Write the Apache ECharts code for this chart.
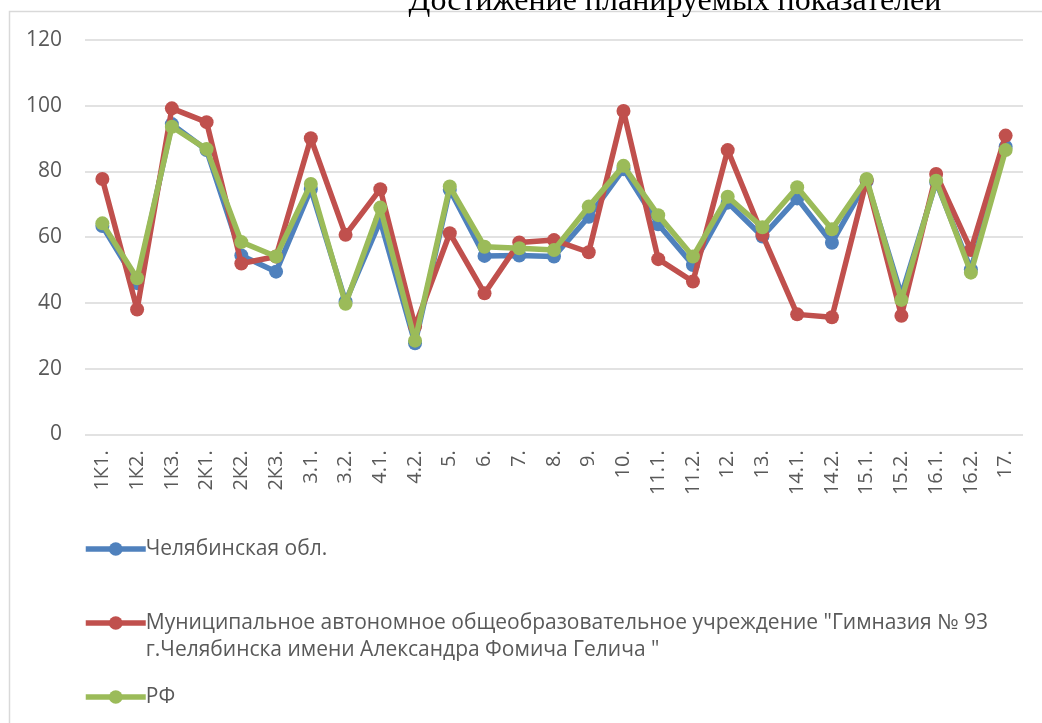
<!DOCTYPE html>
<html>
<head>
<meta charset="utf-8">
<script src="https://cdn.jsdelivr.net/npm/echarts@6/dist/echarts.min.js"></script>
<style>
html,body{margin:0;padding:0;background:#fff;}
#chart{width:1042px;height:723px;}
</style>
</head>
<body>
<div id="chart"></div>
<script>
const titleText = 'Достижение планируемых показателей';
const categories = ['1К1.','1К2.','1К3.','2К1.','2К2.','2К3.','3.1.','3.2.','4.1.','4.2.','5.','6.','7.','8.','9.','10.','11.1.','11.2.','12.','13.','14.1.','14.2.','15.1.','15.2.','16.1.','16.2.','17.'];
const seriesNames = ['Челябинская обл.', 'Муниципальное автономное общеобразовательное учреждение "Гимназия № 93 г.Челябинска имени Александра Фомича Гелича "', 'РФ'];
const chelyabinsk = [63.4,46,94.4,86.5,54.4,49.5,74.6,40.4,65,27.7,74.4,54.3,54.4,54.1,66.2,80.7,63.9,51.5,70.5,60.2,71.8,58.3,77,42.4,76.8,50.2,87.5];
const gymnasium = [77.7,38,99.2,95,52,54.1,90.1,60.7,74.6,32.8,61.2,42.9,58.4,59.1,55.4,98.4,53.3,46.5,86.5,60.7,36.5,35.6,77.4,36.1,79.2,56.1,90.9];
const russia = [64.2,47.5,93.6,86.8,58.5,54.1,76.2,39.7,69,28.5,75.4,57.1,56.6,56.1,69.3,81.7,66.7,54.1,72.3,63,75.2,62.4,77.7,40.9,77.2,49.2,86.5];
const yTicks = {min: 0, max: 120, interval: 20};
const colors = ['#4F81BD', '#C0504D', '#9BBB59'];

const FONT = 'Open Sans';
const chart = echarts.init(document.getElementById('chart'), null, {renderer: 'canvas'});

function mkSeries(name, data, color, z) {
  return {
    name: name, type: 'line', data: data, z: z,
    symbol: 'circle', symbolSize: 14,
    lineStyle: {color: color, width: 5.5},
    itemStyle: {color: color},
    emphasis: {disabled: true},
    animation: false
  };
}
function mkLegend(name, top, formatter) {
  return {
    data: [name], left: 83, top: top, orient: 'vertical', padding: 0,
    itemWidth: 60, itemHeight: 17, itemGap: 0,
    selectedMode: false,
    formatter: formatter,
    lineStyle: {width: 5.5},
    textStyle: {color: '#595959', fontFamily: FONT, fontSize: 21, lineHeight: 27, padding: [0,0,0,-5]}
  };
}

chart.setOption({
  animation: false,
  color: colors,
  title: {
    text: titleText, left: 670, top: -19, textAlign: 'center',
    textStyle: {fontFamily: 'Liberation Serif', fontWeight: 'normal', fontSize: 32, color: '#000'}
  },
  graphic: [{
    type: 'rect', z: -10, silent: true,
    shape: {x: 9.5, y: 11.5, width: 1200, height: 900},
    style: {fill: 'none', stroke: '#D9D9D9', lineWidth: 1.5}
  }],
  legend: [
    mkLegend(seriesNames[0], 535.5),
    mkLegend(seriesNames[1], 582.5, function () {
      return '\nМуниципальное автономное общеобразовательное учреждение "Гимназия № 93\nг.Челябинска имени Александра Фомича Гелича "';
    }),
    mkLegend(seriesNames[2], 683.5)
  ],
  grid: {left: 85, right: 19, top: 40, bottom: 723 - 434.3, containLabel: false},
  xAxis: {
    type: 'category', data: categories, boundaryGap: true,
    axisLine: {show: false}, axisTick: {show: false},
    axisLabel: {rotate: 90, margin: 16, color: '#595959', fontFamily: FONT, fontSize: 20, interval: 0}
  },
  yAxis: {
    type: 'value', min: yTicks.min, max: yTicks.max, interval: yTicks.interval,
    axisLine: {show: false}, axisTick: {show: false},
    axisLabel: {margin: 23, color: '#595959', fontFamily: FONT, fontSize: 21},
    splitLine: {lineStyle: {color: '#D9D9D9', width: 1.5}}
  },
  series: [
    mkSeries(seriesNames[0], chelyabinsk, colors[0], 2),
    mkSeries(seriesNames[1], gymnasium, colors[1], 3),
    mkSeries(seriesNames[2], russia, colors[2], 4)
  ]
});
</script>
</body>
</html>
